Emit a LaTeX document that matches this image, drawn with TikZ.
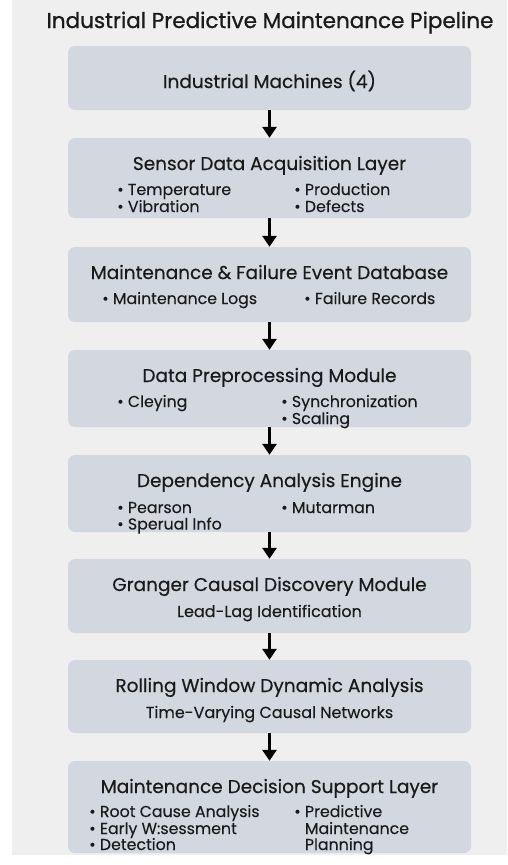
\documentclass[tikz,border=0pt]{standalone}
\usepackage{fontspec}
\setmainfont{Poppins}
\newfontfamily\semib[FakeBold=0.9]{Poppins}
\newfontfamily\medf[FakeBold=0.45]{Poppins}
\newfontfamily\regf[FakeBold=0.15]{Poppins}
\usetikzlibrary{arrows.meta}
\definecolor{bgc}{HTML}{EFEFEF}
\definecolor{boxc}{HTML}{D3D7DF}
\definecolor{txt}{HTML}{1A1A1A}
\tikzset{
  px/.style={x=1pt,y=-1pt},
  stage/.style={fill=boxc,draw=none,rounded corners=7pt,minimum width=403pt,inner sep=0pt},
  ttl/.style={text=txt,font=\medf\fontsize{18.5}{20}\selectfont,anchor=base,inner sep=0pt},
  itm/.style={text=txt,font=\regf\fontsize{15.8}{17}\selectfont,anchor=base west,inner sep=0pt},
  sub/.style={text=txt,font=\regf\fontsize{16}{18}\selectfont,anchor=base,inner sep=0pt},
  flow/.style={line width=3pt,-{Triangle[width=14pt,length=11pt]},black}
}
\begin{document}
\begin{tikzpicture}[px]
\useasboundingbox (0,0) rectangle (507,865);
\fill[white] (0,0) rectangle (507,865);
\fill[bgc] (12,0) rectangle (507,855);
\node[text=txt,font=\semib\fontsize{21.5}{23}\selectfont,inner sep=0pt,anchor=base] (title) at (270,28) {Industrial Predictive Maintenance Pipeline};
% boxes
\node[stage,minimum height=64pt] (b1) at (269.5,78) {};
\node[stage,minimum height=80pt] (b2) at (269.5,178) {};
\node[stage,minimum height=75pt] (b3) at (269.5,284.5) {};
\node[stage,minimum height=77pt] (b4) at (269.5,388.5) {};
\node[stage,minimum height=77pt] (b5) at (269.5,493.5) {};
\node[stage,minimum height=74pt] (b6) at (269.5,596) {};
\node[stage,minimum height=73pt] (b7) at (269.5,696.5) {};
\node[stage,minimum height=92pt] (b8) at (269.5,807) {};
% arrows
\draw[flow] (b1.south) -- (b2.north);
\draw[flow] (b2.south) -- (b3.north);
\draw[flow] (b3.south) -- (b4.north);
\draw[flow] (b4.south) -- (b5.north);
\draw[flow] (b5.south) -- (b6.north);
\draw[flow] (b6.south) -- (b7.north);
\draw[flow] (b7.south) -- (b8.north);
% texts
\node[ttl] (t1) at (269.5,88) {Industrial Machines (4)};
\node[ttl] (t2) at (269.5,170) {Sensor Data Acquisition Layer};
\node[itm] (i2a) at (117,195) {• Temperature};
\node[itm] (i2b) at (117,212) {• Vibration};
\node[itm] (i2c) at (294,195) {• Production};
\node[itm] (i2d) at (294,212) {• Defects};
\node[ttl] (t3) at (269.5,279) {Maintenance \& Failure Event Database};
\node[itm] (i3a) at (102,304) {• Maintenance Logs};
\node[itm] (i3b) at (304,304) {• Failure Records};
\node[ttl] (t4) at (269.5,382) {Data Preprocessing Module};
\node[itm] (i4a) at (117,407) {• Cleying};
\node[itm] (i4b) at (281,407) {• Synchronization};
\node[itm] (i4c) at (281,424) {• Scaling};
\node[ttl] (t5) at (269.5,487) {Dependency Analysis Engine};
\node[itm] (i5a) at (117,513) {• Pearson};
\node[itm] (i5b) at (117,529.5) {• Sperual Info};
\node[itm] (i5c) at (281,513) {• Mutarman};
\node[ttl] (t6) at (269.5,591) {Granger Causal Discovery Module};
\node[sub] (s6) at (269.5,617) {Lead-Lag Identification};
\node[ttl] (t7) at (269.5,692) {Rolling Window Dynamic Analysis};
\node[sub] (s7) at (269.5,718) {Time-Varying Causal Networks};
\node[ttl] (t8) at (269.5,793) {Maintenance Decision Support Layer};
\node[itm] (i8a) at (89,817) {• Root Cause Analysis};
\node[itm] (i8b) at (89,834) {• Early W:sessment};
\node[itm] (i8c) at (89,850) {• Detection};
\node[itm] (i8d) at (294,817) {• Predictive};
\node[itm] (i8e) at (294,834) {\phantom{• }Maintenance};
\node[itm] (i8f) at (294,850) {\phantom{• }Planning};
\end{tikzpicture}
\end{document}
